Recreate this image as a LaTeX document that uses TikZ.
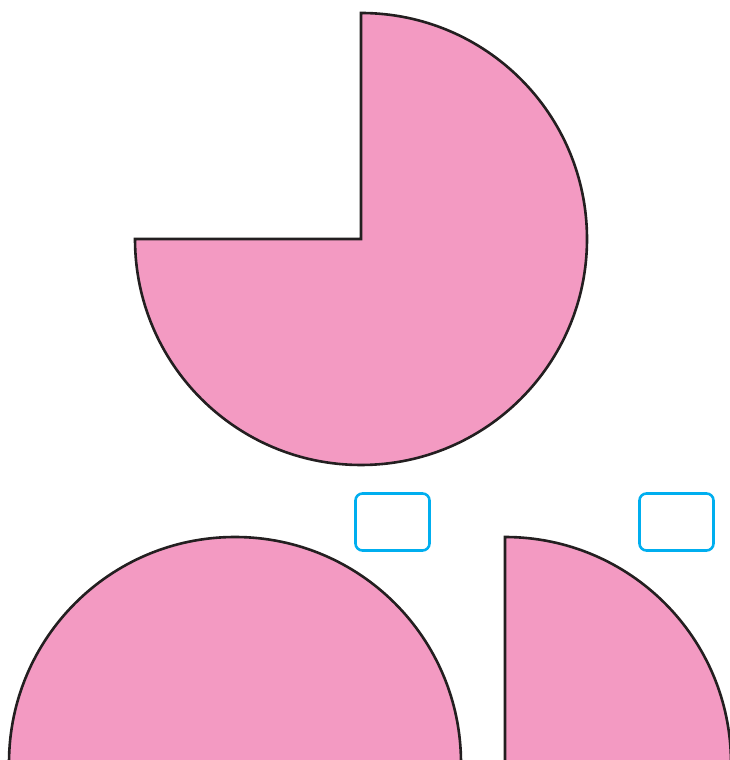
\documentclass[tikz,border=0pt]{standalone}
\usetikzlibrary{positioning}
\definecolor{pinkfill}{HTML}{F39AC2}
\definecolor{darkline}{HTML}{231F20}
\definecolor{cyanbox}{HTML}{00AEEF}
\begin{document}
\begin{tikzpicture}[x=1pt,y=1pt,
  sector/.style={fill=pinkfill,draw=darkline,line width=2.6pt,line join=miter},
  answerbox/.style={draw=cyanbox,line width=2.6pt,rounded corners=7pt,minimum width=74pt,minimum height=57pt,inner sep=0pt}]
\useasboundingbox (0,0) rectangle (730,760);
\clip (0,0) rectangle (730,760);
% three-quarter circle
\draw[sector] (361,521) -- (361,747) arc[start angle=90,end angle=-180,radius=226] -- cycle;
% half circle (bottom left)
\draw[sector] (9,-3) arc[start angle=180,end angle=0,radius=226] -- cycle;
% quarter circle (bottom right)
\draw[sector] (505,-3) -- (505,223) arc[start angle=90,end angle=0,radius=226] -- cycle;
% answer boxes
\node[answerbox] (box1) at (392.5,238) {};
\node[answerbox] (box2) at (676.5,238) {};
\end{tikzpicture}
\end{document}
